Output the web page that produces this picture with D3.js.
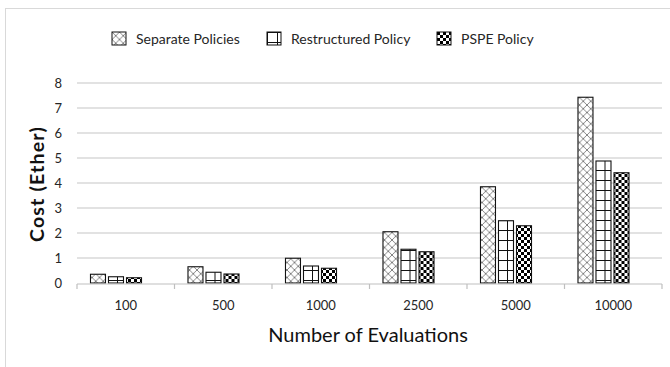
<!DOCTYPE html>
<html>
<head>
<meta charset="utf-8">
<script src="https://cdn.jsdelivr.net/npm/d3@7"></script>
<style>
  html, body { margin: 0; padding: 0; background: #fff; }
  svg { display: block; font-family: Lato, "Liberation Sans", sans-serif; }
</style>
</head>
<body>
<svg id="chart" width="670" height="367"></svg>
<script>
// Evaluation counts on the x axis
const categories = ["100", "500", "1000", "2500", "5000", "10000"];
const seriesNames = ["Separate Policies", "Restructured Policy", "PSPE Policy"];
// Cost in Ether per series
const separate     = [0.35, 0.65, 0.99, 2.05, 3.85, 7.43];
const restructured = [0.25, 0.43, 0.68, 1.35, 2.49, 4.88];
const pspe         = [0.21, 0.36, 0.59, 1.25, 2.29, 4.41];
const yTicks = [0, 1, 2, 3, 4, 5, 6, 7, 8];

const seriesValues = [separate, restructured, pspe];
const patternIds = ["pat-cross", "pat-grid", "pat-check"];

const svg = d3.select("#chart");
const plot = { left: 77, right: 662, top: 83, bottom: 283 };

// outer frame
svg.append("rect")
  .attr("x", 5.5).attr("y", 8.5).attr("width", 680).attr("height", 380)
  .attr("fill", "none").attr("stroke", "#d9d9d9").attr("stroke-width", 1);

// fill patterns
const defs = svg.append("defs");
const cp = 7.5;
const cross = defs.append("pattern").attr("id", "pat-cross")
  .attr("patternUnits", "userSpaceOnUse").attr("width", cp).attr("height", cp);
cross.append("rect").attr("width", cp).attr("height", cp).attr("fill", "#fff");
cross.append("path")
  .attr("d", `M0,0L${cp},${cp}M${cp},0L0,${cp}M-1,${cp - 1}L1,${cp + 1}M${cp - 1},-1L${cp + 1},1M-1,1L1,-1M${cp - 1},${cp + 1}L${cp + 1},${cp - 1}`)
  .attr("stroke", "#666").attr("stroke-width", 0.8);

const grid = defs.append("pattern").attr("id", "pat-grid")
  .attr("patternUnits", "userSpaceOnUse").attr("width", 10).attr("height", 10);
grid.append("rect").attr("width", 10).attr("height", 10).attr("fill", "#fff");
grid.append("path").attr("d", "M0.5,0V10M0,0.5H10")
  .attr("stroke", "#111").attr("stroke-width", 1);

const check = defs.append("pattern").attr("id", "pat-check")
  .attr("patternUnits", "userSpaceOnUse").attr("width", 6).attr("height", 6);
check.append("rect").attr("width", 6).attr("height", 6).attr("fill", "#fff");
check.append("rect").attr("width", 3).attr("height", 3).attr("fill", "#000");
check.append("rect").attr("x", 3).attr("y", 3).attr("width", 3).attr("height", 3).attr("fill", "#000");

// scales
const x0 = d3.scaleBand().domain(categories).range([plot.left, plot.right]).padding(0);
const x1 = d3.scaleBand().domain(d3.range(seriesNames.length))
  .range([0, x0.bandwidth()]).paddingInner(0.167).paddingOuter(1.29).align(0.29);
const y = d3.scaleLinear().domain([0, 8]).range([plot.bottom, plot.top]);

// horizontal gridlines
svg.append("g").selectAll("line").data(yTicks.filter(d => d > 0)).join("line")
  .attr("x1", plot.left).attr("x2", plot.right)
  .attr("y1", d => y(d)).attr("y2", d => y(d))
  .attr("stroke", "#d9d9d9").attr("stroke-width", 1.5);

// y tick labels
const yAxis = d3.axisLeft(y).tickValues(yTicks).tickSize(0).tickPadding(0).tickFormat(d3.format("d"));
const gy = svg.append("g").attr("transform", `translate(62,0)`).call(yAxis)
  .attr("font-family", null).attr("font-size", null);
gy.select(".domain").remove();
gy.selectAll("text").attr("font-size", 13).attr("fill", "#262626");

// bars
const groups = svg.append("g").selectAll("g").data(categories).join("g")
  .attr("transform", d => `translate(${x0(d)},0)`);
groups.selectAll("rect")
  .data((c, ci) => seriesValues.map((vals, si) => ({ si, v: vals[ci] })))
  .join("rect")
  .attr("x", d => x1(d.si))
  .attr("width", x1.bandwidth())
  .attr("y", d => y(d.v))
  .attr("height", d => y(0) - y(d.v))
  .attr("fill", d => `url(#${patternIds[d.si]})`)
  .attr("stroke", "#111").attr("stroke-width", 1.1);

// x axis with ticks at category boundaries
const gx = svg.append("g").attr("transform", `translate(0,${plot.bottom + 1})`);
gx.append("line").attr("x1", plot.left).attr("x2", plot.right)
  .attr("stroke", "#bfbfbf").attr("stroke-width", 1.2);
const boundaries = categories.map(c => x0(c)).concat([x0(categories[categories.length - 1]) + x0.bandwidth()]);
gx.selectAll("line.tk").data(boundaries).join("line").attr("class", "tk")
  .attr("x1", d => d).attr("x2", d => d).attr("y1", 0).attr("y2", 5)
  .attr("stroke", "#bfbfbf").attr("stroke-width", 1.2);
gx.selectAll("text").data(categories).join("text")
  .attr("x", d => x0(d) + x0.bandwidth() / 2)
  .attr("y", 26)
  .attr("text-anchor", "middle")
  .attr("font-size", 13).attr("fill", "#262626")
  .text(d => d);

// axis titles
svg.append("text")
  .attr("x", 368).attr("y", 342)
  .attr("text-anchor", "middle")
  .attr("font-size", 20).attr("fill", "#111")
  .text("Number of Evaluations");
svg.append("text")
  .attr("transform", `translate(44,184) rotate(-90)`)
  .attr("text-anchor", "middle")
  .attr("font-size", 19.5).attr("font-weight", "bold").attr("fill", "#111")
  .attr("letter-spacing", 1.2)
  .text("Cost (Ether)");

// legend
const legendX = [112, 267, 437];
const legend = svg.append("g").selectAll("g").data(seriesNames).join("g")
  .attr("transform", (d, i) => `translate(${legendX[i]},32)`);
legend.append("rect")
  .attr("width", 14).attr("height", 13)
  .attr("fill", (d, i) => `url(#${patternIds[i]})`)
  .attr("stroke", "#111").attr("stroke-width", 1);
legend.append("text")
  .attr("x", 24).attr("y", 11.5)
  .attr("font-size", 14).attr("fill", "#262626")
  .text(d => d);
</script>
</body>
</html>
